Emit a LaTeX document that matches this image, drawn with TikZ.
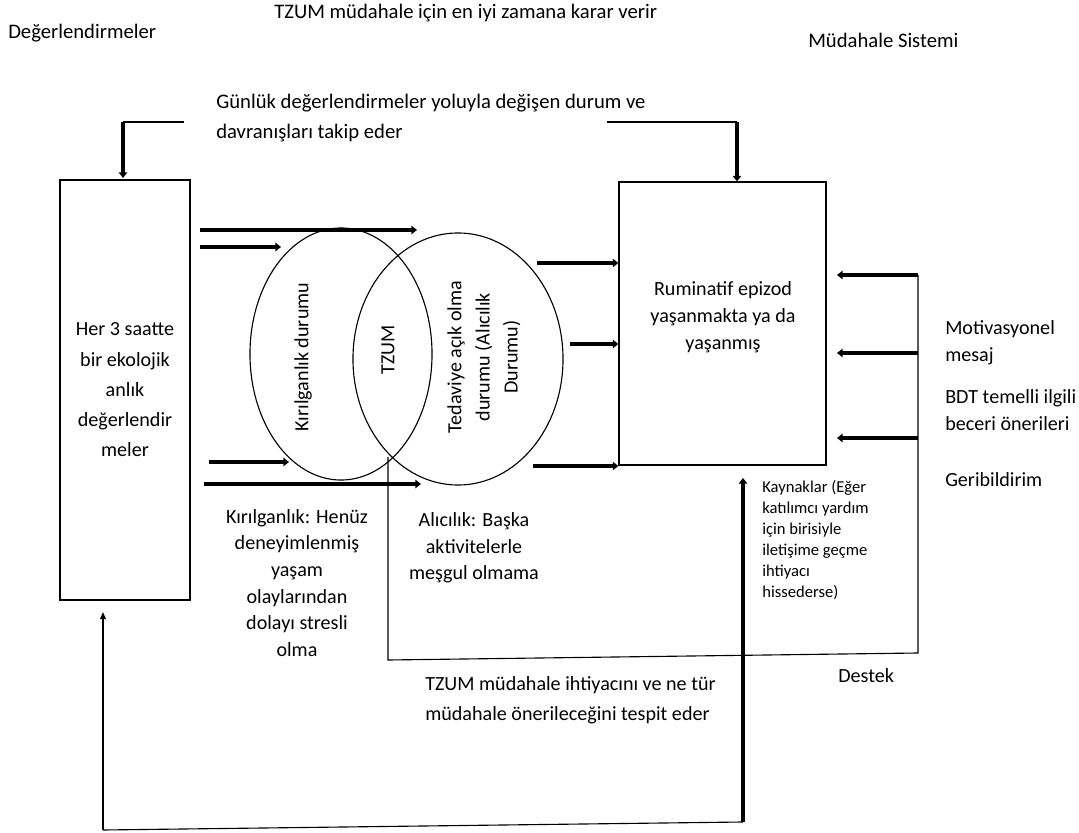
\documentclass[tikz,border=0pt]{standalone}
\usepackage{fontspec}
\setmainfont{Carlito}
\usetikzlibrary{shapes.geometric,arrows.meta}

\begin{document}
\begin{tikzpicture}[x=0.025cm,y=-0.025cm]
    \tikzstyle{lbl}=[inner sep=0pt,font=\fontsize{14.3}{19}\selectfont]
    \tikzstyle{head}=[inner sep=0pt,font=\fontsize{14.7}{21}\selectfont]
    \tikzstyle{small}=[inner sep=0pt,font=\fontsize{11.8}{15}\selectfont,align=left]
    \tikzstyle{wire}=[line width=0.8pt]
    \tikzstyle{fat}=[line width=2.2pt,-{Triangle[length=4pt,width=6pt]}]
    \tikzstyle{thin}=[line width=1.2pt,-{Triangle[length=5pt,width=4pt]}]
    \tikzstyle{venn}=[ellipse,draw,line width=0.8pt,inner sep=0pt]
    \useasboundingbox (0,0) rectangle (1079,833);

    % headings
    \node[head,anchor=base west] (evals) at (8,39) {Değerlendirmeler};
    \node[head,anchor=base west] (title) at (274,19) {TZUM müdahale için en iyi zamana karar verir};
    \node[head,anchor=base west] (system) at (808,48) {Müdahale Sistemi};
    \node[head,anchor=west,align=left] (track) at (216,118)
      {Günlük değerlendirmeler yoluyla değişen durum ve\\davranışları takip eder};

    % boxes
    \node[draw,wire,minimum width=3.25cm,minimum height=10.5cm,align=center,
      font=\fontsize{14.3}{21.5}\selectfont] (ema) at (125,390)
      {Her 3 saatte\\bir ekolojik\\anlık\\değerlendir\\meler};
    \node[draw,wire,minimum width=5.175cm,minimum height=7.075cm] (rum) at (722.5,323.5) {};
    \node[lbl,align=center] (rumtxt) at (723,317) {Ruminatif epizod\\yaşanmakta ya da\\yaşanmış};

    % venn
    \node[venn,minimum width=4.55cm,minimum height=6.3cm] (kir) at (341,354) {};
    \node[venn,minimum width=5.25cm,minimum height=6.3cm] (alc) at (458,359) {};
    \node[lbl,rotate=90] (kirtxt) at (303,357) {Kırılganlık durumu};
    \node[lbl,rotate=90] (tzum) at (388,350) {TZUM};
    \node[lbl,rotate=90,align=center,font=\fontsize{14.3}{20}\selectfont] (alctxt) at (484,357)
      {Tedaviye açık olma\\durumu (Alıcılık\\Durumu)};

    % notes
    \node[lbl,align=center] (kirnote) at (297,583)
      {Kırılganlık: Henüz\\deneyimlenmiş\\yaşam\\olaylarından\\dolayı stresli\\olma};
    \node[lbl,align=center] (alcnote) at (474,548) {Alıcılık: Başka\\aktivitelerle\\meşgul olmama};
    \node[lbl,anchor=west,align=left,font=\fontsize{14.3}{21}\selectfont] (detect) at (425,700)
      {TZUM müdahale ihtiyacını ve ne tür\\müdahale önerileceğini tespit eder};
    \node[small,anchor=north west] (res) at (762,480)
      {Kaynaklar (Eğer\\katılımcı yardım\\için birisiyle\\iletişime geçme\\ihtiyacı\\hissederse)};
    \node[lbl,anchor=west,align=left] (motiv) at (945,343) {Motivasyonel\\mesaj};
    \node[lbl,anchor=west,align=left] (bdt) at (945,410) {BDT temelli ilgili\\beceri önerileri};
    \node[lbl,anchor=west] (feed) at (945,480) {Geribildirim};
    \node[lbl,anchor=west] (sup) at (838,676) {Destek};

    % top connectors
    \coordinate (tl) at (184,122);
    \coordinate (tr) at (607,122);
    \draw[wire] (tl) -- (123,122);
    \draw[fat] (123,122) -- (123,178);
    \draw[wire] (tr) -- (737,122);
    \draw[fat] (737,122) -- (737,122 |- rum.north);

    % into the venn
    \draw[fat] (200,230) -- (417,230);
    \draw[fat] (200,247) -- (281,247);
    \draw[fat] (209,462) -- (289,462);
    \draw[fat] (204,484) -- (421,484);

    % out of the venn
    \draw[fat] (537,263) -- (rum.west |- 0,263);
    \draw[fat] (570,344) -- (rum.west |- 0,344);
    \draw[fat] (533,466) -- (rum.west |- 0,466);

    % support loop
    \coordinate (cut) at (388,457);
    \coordinate (sr) at (918,653);
    \draw[wire] (cut) -- (388,660) -- (sr) -- (918,275);
    \foreach \y in {275,353,438}
      \draw[fat] (918,\y) -- (837,\y);

    % bottom loop
    \coordinate (bl) at (103,830);
    \coordinate (br) at (743,822);
    \draw[wire] (bl) -- (br);
    \draw[thin] (bl) -- (103,612);
    \draw[fat] (br) -- (743,478);
\end{tikzpicture}
\end{document}
